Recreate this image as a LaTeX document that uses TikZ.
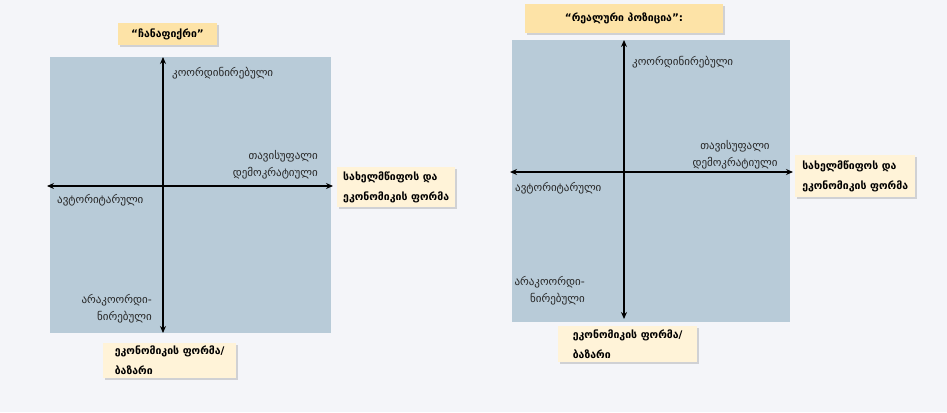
\documentclass[tikz,border=0pt]{standalone}
\usepackage{fontspec}
\setmainfont{DejaVu Sans}
\usetikzlibrary{arrows.meta,shadows}
\definecolor{bgc}{HTML}{F4F5F9}
\definecolor{panelc}{HTML}{B8CBD8}
\definecolor{titlec}{HTML}{FDE3A7}
\definecolor{boxc}{HTML}{FFF3D8}
\tikzset{
  axisline/.style={line width=1.5pt, {Stealth[length=7pt,width=6pt]}-{Stealth[length=7pt,width=6pt]}},
  lbl/.style={font=\fontsize{11}{17}\selectfont, inner sep=0pt, text=black!85},
  shadowed/.style={drop shadow={opacity=0.25, shadow xshift=2pt, shadow yshift=-2pt, fill=black!60}},
  titlebox/.style={shadowed, fill=titlec, draw=none, font=\bfseries\fontsize{10.5}{12}\selectfont, inner sep=0pt, align=center},
  formbox/.style={shadowed, fill=boxc, draw=none, font=\bfseries\fontsize{10.5}{20}\selectfont, inner xsep=5pt, inner ysep=3pt, align=left, anchor=north west},
}
\begin{document}
\begin{tikzpicture}[x=1pt,y=-1pt]
\useasboundingbox (0,0) rectangle (947,412);
\fill[bgc] (0,0) rectangle (947,412);
% left panel
\fill[panelc] (50,57) rectangle (331,333);
\node[titlebox, minimum width=99pt, minimum height=22pt] (t1) at (167.5,34) {“ჩანაფიქრი”};
\coordinate (l1top) at (163,57);
\coordinate (l1bot) at (163,333);
\coordinate (l1left) at (47,186);
\coordinate (l1right) at (333,186);
\draw[axisline] (l1bot) -- (l1top);
\draw[axisline] (l1left) -- (l1right);
\node[lbl, anchor=west] (a1) at (172,73) {კოორდინირებული};
\node[lbl, anchor=east, align=right] (b1) at (318,165) {თავისუფალი\\დემოკრატიული};
\node[lbl, anchor=west] (c1) at (57,200) {ავტორიტარული};
\node[lbl, anchor=east, align=right] (d1) at (152,309) {არაკოორდი-\\ნირებული};
\node[formbox, minimum width=118pt, minimum height=40pt] (e1) at (337,167) {სახელმწიფოს და\\ეკონომიკის ფორმა};
\node[formbox, minimum width=133pt, minimum height=35pt] (f1) at (103,343) {ეკონომიკის ფორმა/\\ბაზარი};
% right panel
\fill[panelc] (512,40) rectangle (790,322);
\node[titlebox, minimum width=198pt, minimum height=29pt] (t2) at (624,18.5) {“რეალური პოზიცია”:};
\coordinate (l2top) at (624,40);
\coordinate (l2bot) at (624,319);
\coordinate (l2left) at (510,172);
\coordinate (l2right) at (793,172);
\draw[axisline] (l2bot) -- (l2top);
\draw[axisline] (l2left) -- (l2right);
\node[lbl, anchor=west] (a2) at (632,62) {კოორდინირებული};
\node[lbl, align=center] (b2) at (735,155) {თავისუფალი\\დემოკრატიული};
\node[lbl, anchor=west] (c2) at (515,188) {ავტორიტარული};
\node[lbl, anchor=east, align=right] (d2) at (585,291) {არაკოორდი-\\ნირებული};
\node[formbox, minimum width=120pt, minimum height=42pt] (e2) at (795,155) {სახელმწიფოს და\\ეკონომიკის ფორმა};
\node[formbox, minimum width=139pt, minimum height=36pt] (f2) at (558,326) {ეკონომიკის ფორმა/\\ბაზარი};
\end{tikzpicture}
\end{document}
